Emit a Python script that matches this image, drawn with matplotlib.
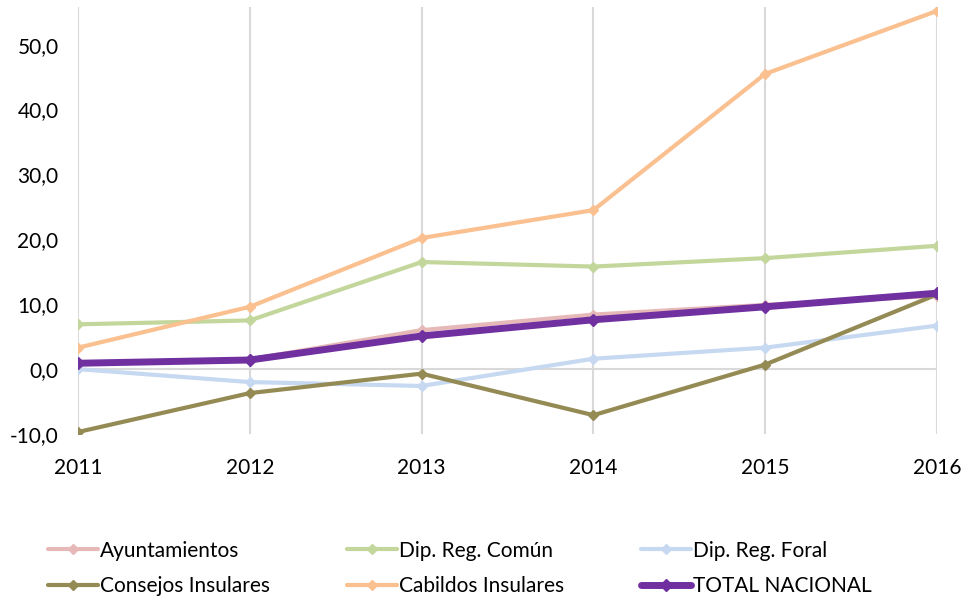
import matplotlib.pyplot as plt
from matplotlib.ticker import FuncFormatter

plt.rcParams['font.family'] = ['Lato', 'DejaVu Sans']

# Years and series values (%)
years = [2011, 2012, 2013, 2014, 2015, 2016]
ayuntamientos = [0.9, 1.5, 6.0, 8.4, 9.9, 11.3]
dip_reg_comun = [6.9, 7.5, 16.5, 15.8, 17.1, 19.0]
dip_reg_foral = [0.0, -2.0, -2.6, 1.6, 3.3, 6.7]
consejos_insulares = [-9.7, -3.7, -0.7, -7.1, 0.7, 11.5]
cabildos_insulares = [3.3, 9.6, 20.2, 24.5, 45.5, 55.2]
total_nacional = [0.9, 1.4, 5.1, 7.6, 9.6, 11.7]

series = [
    ('Ayuntamientos', ayuntamientos, '#E6B9B8', 3.0),
    ('Dip. Reg. Común', dip_reg_comun, '#C3D69B', 3.0),
    ('Dip. Reg. Foral', dip_reg_foral, '#C6D9F1', 3.0),
    ('Consejos Insulares', consejos_insulares, '#948A54', 3.0),
    ('Cabildos Insulares', cabildos_insulares, '#FAC090', 3.0),
    ('TOTAL NACIONAL', total_nacional, '#7030A0', 5.0),
]

fig = plt.figure(figsize=(9.7, 6), dpi=100)
ax = fig.add_axes([0.0804, 0.2767, 0.8856, 0.7116])

handles = []
for name, vals, color, lw in series:
    h, = ax.plot(years, vals, color=color, lw=lw, marker='D',
                 ms=5 if lw < 4 else 6, label=name, solid_capstyle='round',
                 zorder=3)
    handles.append(h)

ax.set_xlim(2011, 2016)
ax.set_ylim(-10, 55.8)
ax.set_xticks(years)
ax.set_yticks([-10, 0, 10, 20, 30, 40, 50])
ax.yaxis.set_major_formatter(FuncFormatter(lambda v, p: f'{v:.1f}'.replace('.', ',')))

ax.grid(axis='x', color='#D9D9D9', lw=1.5)
ax.axhline(0, color='#D9D9D9', lw=1.5, zorder=1)
for s in ax.spines.values():
    s.set_visible(False)
ax.tick_params(length=0, labelsize=15, colors='black')
ax.tick_params(axis='x', pad=17)
ax.tick_params(axis='y', pad=14)

# legend fills column by column, so reorder to read across rows
order = [0, 3, 1, 4, 2, 5]
fig.legend([handles[i] for i in order], [series[i][0] for i in order],
           loc='upper left', bbox_to_anchor=(0.049, 0.099), ncol=3,
           frameon=False, fontsize=15, handlelength=2.4, handletextpad=0.1,
           columnspacing=3.7, labelspacing=0.75, borderpad=0,
           borderaxespad=0)

fig.savefig('out.png', dpi=100)
